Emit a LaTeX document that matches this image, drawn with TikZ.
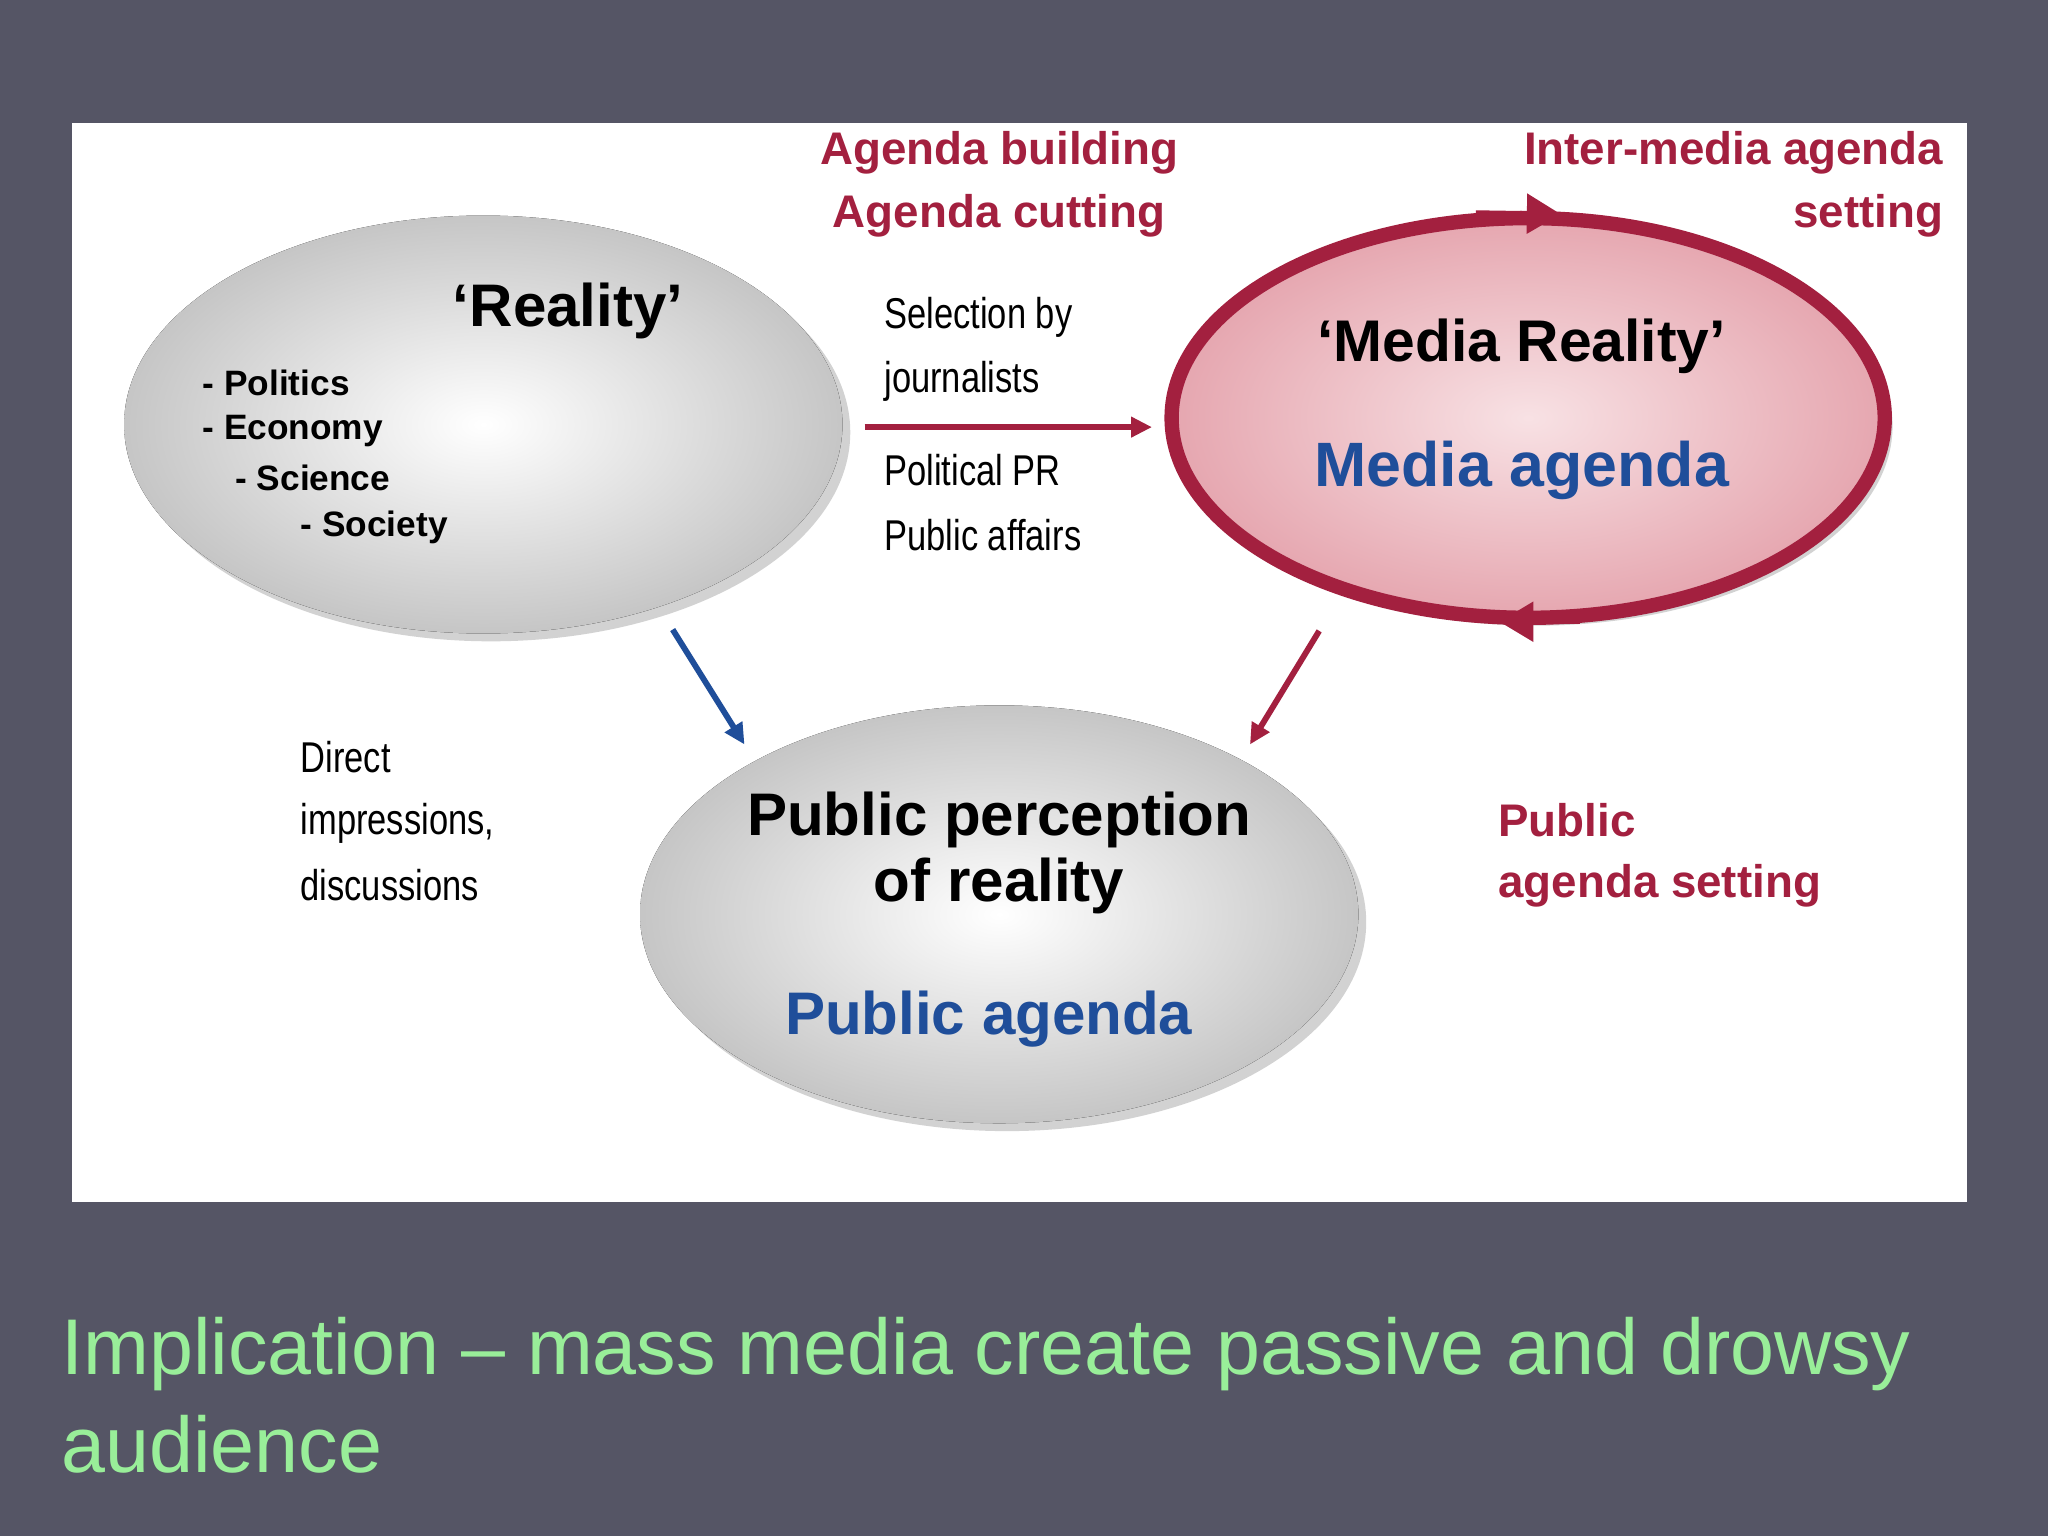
\documentclass[tikz,border=0pt]{standalone}
\usepackage{fontspec}
\setmainfont{Liberation Sans}
\newfontfamily\narrowf[FakeStretch=0.8]{Liberation Sans}
\usetikzlibrary{arrows.meta,shadows}
\definecolor{bg}{HTML}{555565}
\definecolor{dred}{HTML}{A3203F}
\definecolor{dblue}{HTML}{1F4E9A}
\definecolor{lgreen}{HTML}{99EE99}
\definecolor{pinkf}{HTML}{EDB5BC}
\tikzset{x=1pt,y=-1pt,
 lbl/.style={inner sep=0pt,font=\fontsize{#1}{#1}\selectfont\bfseries},
 nar/.style={inner sep=0pt,anchor=west,font=\fontsize{33}{33}\selectfont\narrowf},
 ell/.style={inner sep=0pt,drop shadow={shadow xshift=6pt,shadow yshift=-6pt,opacity=0.35}},
 arr/.style={line width=4.5pt,-{Triangle[length=16pt,width=15pt]}}}
\begin{document}
\begin{tikzpicture}
\fill[bg] (0,0) rectangle (1568,1176);
\useasboundingbox (0,0) rectangle (1568,1176);
\fill[white] (55,94) rectangle (1506,920);
% ellipses
\fill[ell,inner color=white,outer color=gray!45] (370,325) ellipse [x radius=275,y radius=160];
\fill[ell,inner color=white,outer color=gray!45] (765,700) ellipse [x radius=275,y radius=160];
\fill[ell,inner color=pinkf!40,outer color=pinkf!90!dred,draw=dred,line width=11pt] (1170,320) ellipse [x radius=273,y radius=153];
\draw[dred,line width=4pt,-{Triangle[length=26pt,width=30pt]}] (1130,163) -- (1195,164);
\draw[dred,line width=4pt,-{Triangle[length=26pt,width=30pt]}] (1210,476) -- (1148,476);
% texts
\node[lbl=46] (real) at (435,238) {`Reality'};
\node[lbl=27,anchor=west] (p1) at (155,293) {- Politics};
\node[lbl=27,anchor=west] (p2) at (155,330) {- Economy};
\node[lbl=27,anchor=west] (p3) at (180,366) {- Science};
\node[lbl=27,anchor=west] (p4) at (230,404) {- Society};
\node[lbl=45] (mr) at (1165,265) {`Media Reality'};
\node[lbl=48,text=dblue] (ma) at (1165,360) {Media agenda};
\node[lbl=46] (pp1) at (765,628) {Public perception};
\node[lbl=46] (pp2) at (765,678) {of reality};
\node[lbl=46,text=dblue] (pa) at (757,780) {Public agenda};
\node[nar] (s1) at (677,243) {Selection by};
\node[nar] (s2) at (677,292) {journalists};
\node[nar] (s3) at (677,360) {Political PR};
\node[nar] (s4) at (677,410) {Public affairs};
\node[nar] (d1) at (230,580) {Direct};
\node[nar] (d2) at (230,630) {impressions,};
\node[nar] (d3) at (230,678) {discussions};
\node[lbl=35,text=dred] (ab) at (765,117) {Agenda building};
\node[lbl=35,text=dred] (ac) at (765,165) {Agenda cutting};
\node[lbl=35,text=dred,anchor=east] (im) at (1488,117) {Inter-media agenda};
\node[lbl=35,text=dred,anchor=east] (st) at (1488,165) {setting};
\node[lbl=35,text=dred,anchor=west] (pu) at (1147,628) {Public};
\node[lbl=35,text=dred,anchor=west] (as) at (1147,678) {agenda setting};
% arrows
\coordinate (a1) at (662,327); \coordinate (a2) at (882,327);
\draw[arr,dred] (a1) -- (a2);
\coordinate (b1) at (515,482); \coordinate (b2) at (570,570);
\draw[arr,dblue] (b1) -- (b2);
\coordinate (c1) at (1010,483); \coordinate (c2) at (957,570);
\draw[arr,dred] (c1) -- (c2);
\node[anchor=west,inner sep=0pt,text=lgreen,font=\fontsize{60.5}{75}\selectfont,align=left] (cap) at (47,1068) {Implication -- mass media create passive and drowsy\\audience};
\end{tikzpicture}
\end{document}
